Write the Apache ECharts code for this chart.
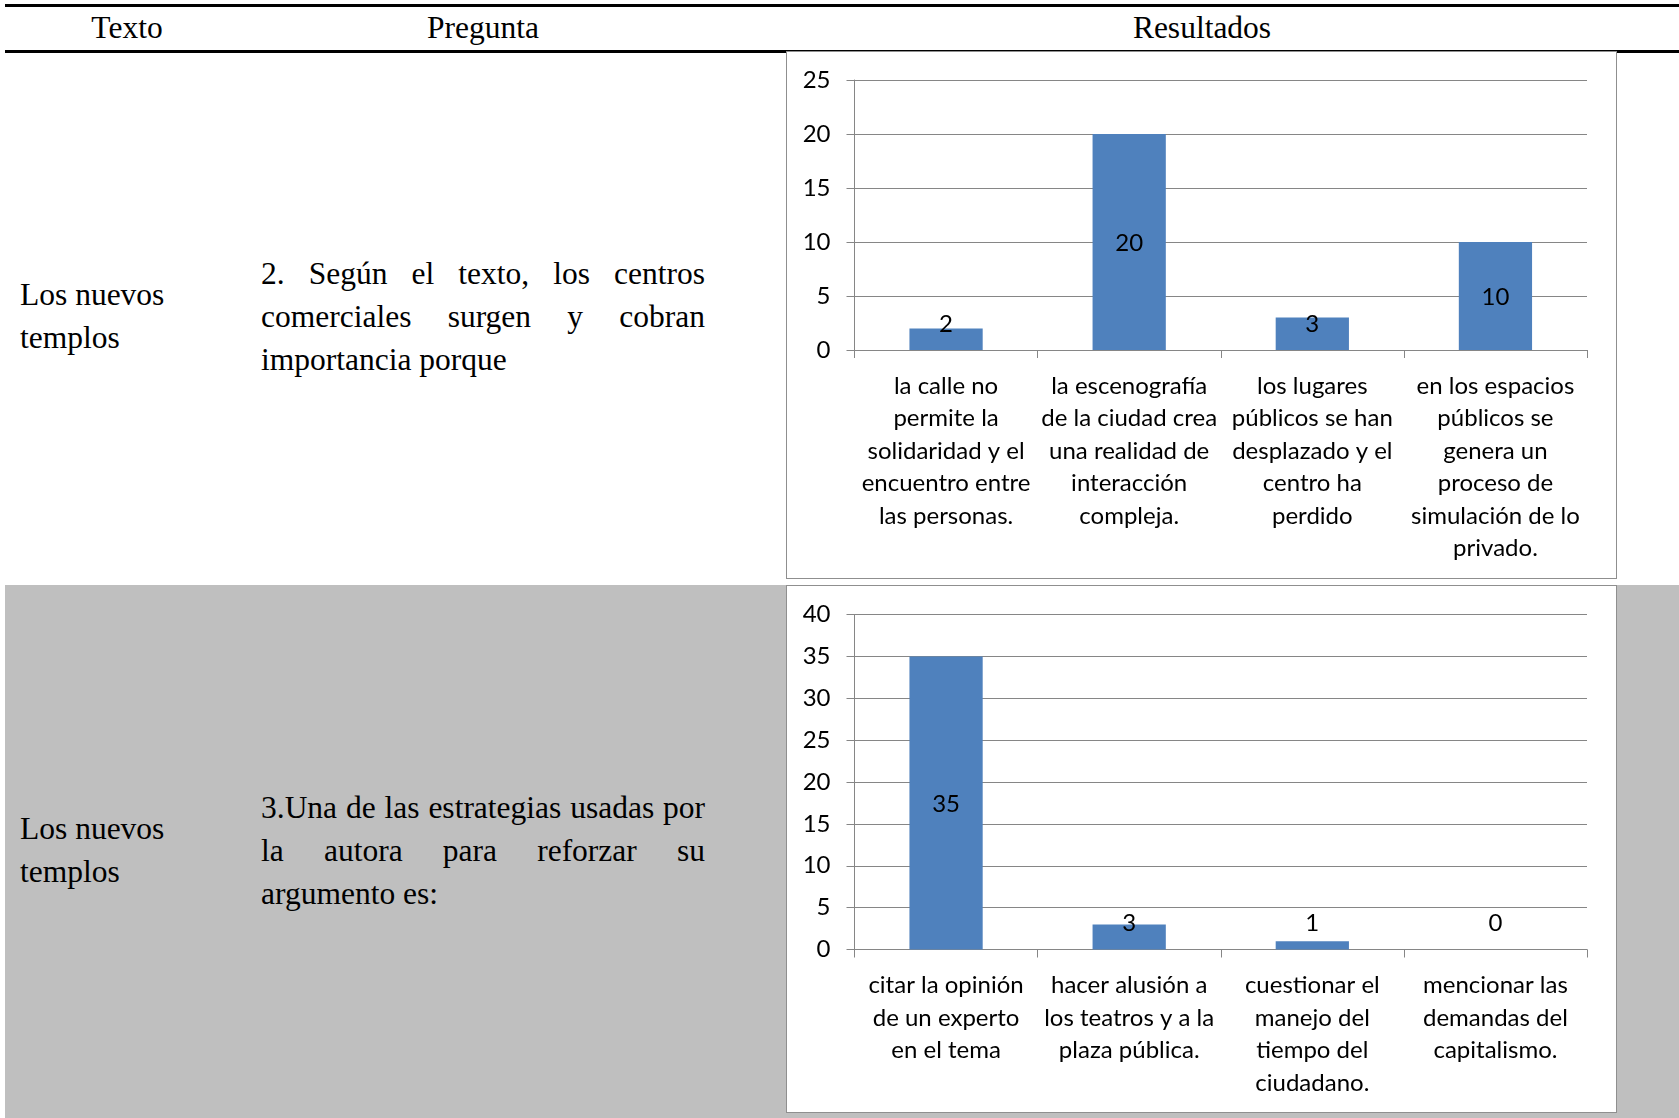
<!DOCTYPE html>
<html>
<head>
<meta charset="utf-8">
<script src="https://cdn.jsdelivr.net/npm/echarts@6/dist/echarts.min.js"></script>
<style>
  html, body { margin: 0; padding: 0; background: #fff; }
  body { width: 1679px; height: 1118px; position: relative; overflow: hidden; }
  .rule { position: absolute; background: #000; }
  .band { position: absolute; left: 5px; right: 0; top: 585px; bottom: 0; background: #bfbfbf; }
  .box { position: absolute; left: 786px; width: 829px; height: 526px; background: #fff; border: 1px solid #8f8f8f; }
  .serif { position: absolute; font-family: "Liberation Serif", "Times New Roman", serif; font-size: 31.5px; color: #000; line-height: 42.8px; white-space: nowrap; }
  .hdr { position: absolute; top: 9px; font-family: "Liberation Serif", "Times New Roman", serif; font-size: 31.5px; line-height: 38px; transform: translateX(-50%); white-space: nowrap; }
  .just { display: block; text-align: justify; text-align-last: justify; }
  .q { width: 444px; }
  #chart { position: absolute; left: 0; top: 0; width: 1679px; height: 1118px; }
</style>
</head>
<body>
<div class="rule" style="left:5px;right:0;top:4px;height:3px"></div>
<div class="rule" style="left:5px;right:0;top:50px;height:3px"></div>
<div class="band"></div>
<div class="box" style="top:51px"></div>
<div class="box" style="top:585px"></div>
<div id="text"></div>
<div id="chart"></div>
<script>
// ---- data ----
const headers = ['Texto', 'Pregunta', 'Resultados'];
const textoLines = ['Los nuevos', 'templos'];
const pregunta1Lines = ['2. Según el texto, los centros', 'comerciales surgen y cobran', 'importancia porque'];
const pregunta2Lines = ['3.Una de las estrategias usadas por', 'la autora para reforzar su', 'argumento es:'];

const categories1 = [
  'la calle no\npermite la\nsolidaridad y el\nencuentro entre\nlas personas.',
  'la escenografía\nde la ciudad crea\nuna realidad de\ninteracción\ncompleja.',
  'los lugares\npúblicos se han\ndesplazado y el\ncentro ha\nperdido',
  'en los espacios\npúblicos se\ngenera un\nproceso de\nsimulación de lo\nprivado.'
];
const values1 = [2, 20, 3, 10];
const axisMax1 = 25;

const categories2 = [
  'citar la opinión\nde un experto\nen el tema',
  'hacer alusión a\nlos teatros y a la\nplaza pública.',
  'cuestionar el\nmanejo del\ntiempo del\nciudadano.',
  'mencionar las\ndemandas del\ncapitalismo.'
];
const values2 = [35, 3, 1, 0];
const axisMax2 = 40;
const tickStep = 5;

// ---- table text (HTML) ----
const t = document.getElementById('text');
function add(html) { t.insertAdjacentHTML('beforeend', html); }
const hdrX = [127, 483, 1202];
headers.forEach((h, i) => add(`<div class="hdr" style="left:${hdrX[i]}px">${h}</div>`));
function block(lines, left, top, justify) {
  let inner = lines.map((l, i) => {
    const j = justify && i < lines.length - 1;
    return `<span class="${j ? 'just' : ''}" style="display:block">${l}</span>`;
  }).join('');
  add(`<div class="serif ${justify ? 'q' : ''}" style="left:${left}px;top:${top}px">${inner}</div>`);
}
block(textoLines, 20, 274, false);
block(pregunta1Lines, 261, 253, true);
block(textoLines, 20, 808, false);
block(pregunta2Lines, 261, 787, true);

// ---- chart ----
const FONT = 'Lato, "Open Sans", sans-serif';
const gray = '#868686';
function barData(vals, max) {
  return vals.map(v => {
    const small = v < max * 0.2;
    return {
      value: v,
      label: small
        ? { position: 'insideBottom', distance: 13 }
        : { position: 'inside', offset: [0, 1] }
    };
  });
}
function xAx(idx, cats) {
  return {
    type: 'category', gridIndex: idx, data: cats,
    axisLine: { lineStyle: { color: gray, width: 1 } },
    axisTick: { show: true, length: 8, lineStyle: { color: gray } },
    axisLabel: { interval: 0, color: '#000', fontFamily: FONT, fontSize: 24, lineHeight: 32.5, margin: 20, hideOverlap: false }
  };
}
function yAx(idx, max) {
  return {
    type: 'value', gridIndex: idx, min: 0, max: max, interval: tickStep,
    axisLine: { show: true, lineStyle: { color: gray, width: 1 } },
    axisTick: { show: true, length: 8, lineStyle: { color: gray } },
    splitLine: { lineStyle: { color: gray, width: 1.2 } },
    axisLabel: { color: '#000', fontFamily: FONT, fontSize: 24, margin: 24 }
  };
}
function bars(idx, vals, max) {
  return {
    type: 'bar', xAxisIndex: idx, yAxisIndex: idx,
    data: barData(vals, max), barWidth: '40%',
    itemStyle: { color: '#4f81bd' },
    label: { show: true, color: '#000', fontFamily: FONT, fontSize: 24, lineHeight: 26 },
    silent: true, animation: false
  };
}
const chart = echarts.init(document.getElementById('chart'), null, { renderer: 'canvas' });
chart.setOption({
  backgroundColor: 'transparent',
  animation: false,
  grid: [
    { left: 854.5, right: 92, top: 80, height: 270 },
    { left: 854.5, right: 92, top: 614.5, height: 335 }
  ],
  xAxis: [xAx(0, categories1), xAx(1, categories2)],
  yAxis: [yAx(0, axisMax1), yAx(1, axisMax2)],
  series: [bars(0, values1, axisMax1), bars(1, values2, axisMax2)]
});
</script>
</body>
</html>
